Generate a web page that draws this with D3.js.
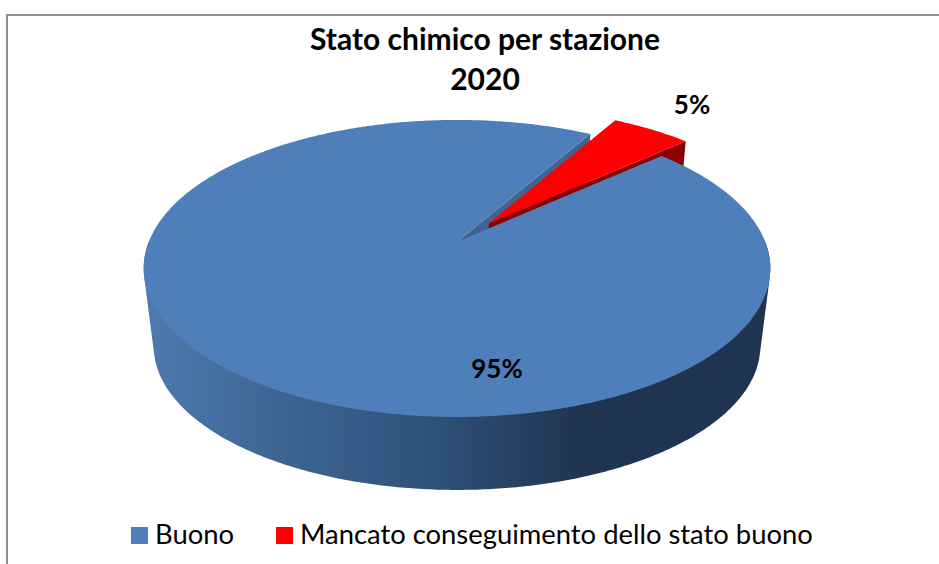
<!DOCTYPE html>
<html>
<head>
<meta charset="utf-8">
<script src="https://cdn.jsdelivr.net/npm/d3@7"></script>
<style>
  html, body { margin: 0; padding: 0; background: #fff; }
  svg { display: block; }
  text { font-family: Lato, "Open Sans", sans-serif; fill: #000; }
</style>
</head>
<body>
<svg id="chart" width="939" height="564"></svg>
<script>
const categories = ['Buono', 'Mancato conseguimento dello stato buono'];
const values = [95, 5];
const valueLabels = ['95%', '5%'];
const titleLines = ['Stato chimico per stazione', '2020'];

const COLORS = ['#4f7fba', '#ff0000'];
const WALL_COLORS = ['#3f648f', '#8b0000'];
const FIRST_SLICE = 48 * Math.PI / 180;
const EXPLODE = 0.168;

// the plane of the pie is seen in perspective
const CENTER_X = 457;
const CENTER_Y = 241.7;
const SCALE_X = 308.2;
const SCALE_Y = 143.7;
const TILT = 0.18;
// the lower face sits further away
const LOWER = {dy: 78.6, scale: 0.968};
const UPPER = {dy: 0, scale: 1};

const svg = d3.select('#chart');

/**
 * Projects a point of the unit disc on the page.
 * @param {number} u to the right
 * @param {number} v towards the viewer
 * @param {!Object} face upper or lower
 * @return {!Array<number>}
 */
function project(u, v, face) {
  const w = 1 - TILT * v;
  return [
    CENTER_X + face.scale * SCALE_X * u / w,
    CENTER_Y + face.dy + face.scale * SCALE_Y * v / w,
  ];
}

/**
 * Point of a slice at radius r and clockwise angle from the top.
 */
function polar(angle, r, offset, face) {
  const u = r * Math.sin(angle) + offset[0];
  const v = -r * Math.cos(angle) + offset[1];
  return project(u, v, face);
}

function sliceOffset(d, amount) {
  const mid = (d.startAngle + d.endAngle) / 2;
  return [amount * Math.sin(mid), -amount * Math.cos(mid)];
}

function rimPoints(a0, a1, offset, face) {
  const steps = Math.ceil(Math.abs(a1 - a0) / 0.01);
  return d3.range(steps + 1)
      .map(i => polar(a0 + (a1 - a0) * i / steps, 1, offset, face));
}

const pathOf = d3.line();
const closed = points => pathOf(points) + 'Z';

const slices = d3.pie().sort(null).startAngle(FIRST_SLICE)
    .endAngle(FIRST_SLICE + 2 * Math.PI)(values);
const buono = slices[0];
const mancato = slices[1];
const noOffset = [0, 0];
const redOffset = sliceOffset(mancato, EXPLODE);

// chart frame, only top and left are visible
svg.append('line').attr('x1', 7).attr('y1', 15).attr('x2', 939).attr('y2', 15)
    .attr('stroke', '#8e8e8e').attr('stroke-width', 2);
svg.append('line').attr('x1', 7).attr('y1', 14).attr('x2', 7).attr('y2', 564)
    .attr('stroke', '#8e8e8e').attr('stroke-width', 2);

// shaded side of the cylinder
const gradient = svg.append('defs').append('linearGradient')
    .attr('id', 'side').attr('gradientUnits', 'userSpaceOnUse')
    .attr('x1', 143).attr('x2', 770).attr('y1', 0).attr('y2', 0);
[[0, '#4d7ab0'], [0.2, '#3f6794'], [0.45, '#30527c'], [0.7, '#1f3450'],
 [1, '#1f3450']].forEach(([offset, color]) => {
  gradient.append('stop').attr('offset', offset).attr('stop-color', color);
});
const frontTop = rimPoints(Math.PI / 2, 3 * Math.PI / 2, noOffset, UPPER);
const frontBottom = rimPoints(Math.PI / 2, 3 * Math.PI / 2, noOffset, LOWER);
svg.append('path')
    .attr('d', closed(d3.polygonHull(frontTop.concat(frontBottom))))
    .attr('fill', 'url(#side)');

// inner wall of the blue slice, seen through the gap
const blueEnd = buono.endAngle;
svg.append('path')
    .attr('d', closed([
      project(0, 0, UPPER),
      polar(blueEnd, 1, noOffset, UPPER),
      polar(blueEnd, 1, noOffset, LOWER),
      project(0, 0, LOWER),
    ]))
    .attr('fill', WALL_COLORS[0]);

// cut wall of the exploded slice
const redEnd = mancato.endAngle;
svg.append('path')
    .attr('d', closed([
      polar(redEnd, 0, redOffset, UPPER),
      polar(redEnd, 1, redOffset, UPPER),
      polar(redEnd, 1, redOffset, LOWER),
      polar(redEnd, 0, redOffset, LOWER),
    ]))
    .attr('fill', WALL_COLORS[1]);

// top faces
svg.append('path')
    .attr('d', closed([project(0, 0, UPPER)].concat(
        rimPoints(buono.startAngle, buono.endAngle, noOffset, UPPER))))
    .attr('fill', COLORS[0]);
svg.append('path')
    .attr('d', closed([project(redOffset[0], redOffset[1], UPPER)].concat(
        rimPoints(mancato.startAngle, mancato.endAngle, redOffset, UPPER))))
    .attr('fill', COLORS[1]);

// title
svg.append('text').attr('text-anchor', 'middle')
    .attr('font-size', 30).attr('font-weight', 700)
    .selectAll('tspan').data(titleLines).join('tspan')
    .attr('x', 485).attr('y', (d, i) => 50 + i * 40).text(d => d);

// value labels
const labelAnchors = [[497, 378], [692, 114]];
svg.selectAll('.value-label').data(valueLabels).join('text')
    .attr('class', 'value-label')
    .attr('text-anchor', 'middle').attr('font-size', 26).attr('font-weight', 700)
    .attr('x', (d, i) => labelAnchors[i][0])
    .attr('y', (d, i) => labelAnchors[i][1])
    .text(d => d);

// legend
const legendX = [131, 276];
const legend = svg.selectAll('.legend').data(categories).join('g')
    .attr('class', 'legend')
    .attr('transform', (d, i) => `translate(${legendX[i]},527)`);
legend.append('rect').attr('width', 17).attr('height', 17)
    .attr('fill', (d, i) => COLORS[i]);
legend.append('text').attr('x', 24).attr('y', 17)
    .attr('font-size', 27.4).text(d => d);
</script>
</body>
</html>
